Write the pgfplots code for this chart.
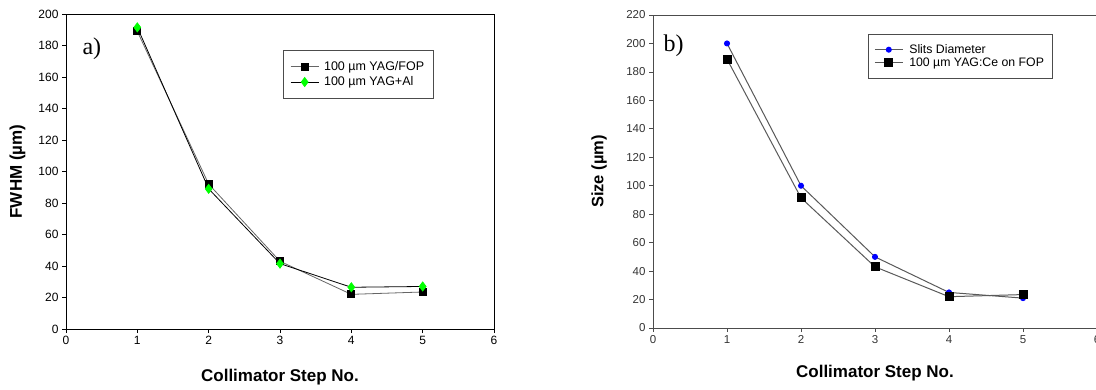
\documentclass[border=0pt]{standalone}
\usepackage{fontspec}
\setmainfont{Liberation Sans}
\newfontfamily\serifont{Liberation Serif}
\usepackage{pgfplots}
\pgfplotsset{compat=1.18}
\pgfplotsset{
  shortleg/.style={legend image code/.code={\draw[mark repeat=2,mark phase=2,##1] plot coordinates {(0pt,0pt) (14pt,0pt) (28pt,0pt)};}},
}
\begin{document}
\begin{tikzpicture}[x=1pt,y=1pt]
\useasboundingbox (0,0) rectangle (1096,389);
\clip (0,0) rectangle (1096,389);
% ---------- panel a ----------
\begin{axis}[
  at={(66pt,60pt)}, anchor=south west, scale only axis,
  width=428pt, height=315pt,
  xmin=0, xmax=6, ymin=0, ymax=200,
  xtick={0,1,2,3,4,5,6}, ytick={0,20,...,200},
  tick align=outside, major tick length=4pt,
  xtick pos=bottom, ytick pos=left,
  axis line style={black, line width=0.8pt},
  tick style={black, line width=0.6pt},
  /pgf/number format/assume math mode=true,
  ticklabel style={font=\fontsize{12}{14}\selectfont},
  every axis x label/.style={at={(rel axis cs:0.5,0)}, anchor=center, yshift=-48pt},
  every axis y label/.style={at={(rel axis cs:0,0.5)}, xshift=-48.5pt, rotate=90, anchor=center},
  xlabel={\bfseries\fontsize{17}{19}\selectfont Collimator Step No.},
  ylabel={\bfseries\fontsize{17}{19}\selectfont FWHM (µm)},
  shortleg,
  legend style={at={(rel axis cs:0.507,0.886)}, anchor=north west, draw=black!70, line width=0.6pt,
    font=\fontsize{12.5}{14}\selectfont, inner xsep=7pt, inner ysep=9pt, row sep=1pt, column sep=3pt},
  legend cell align=left,
]
\addplot[black!60, line width=0.8pt, mark=square*, mark size=3.5pt, mark options={fill=black, draw=black}]
  coordinates {(1,189) (2,92) (3,43) (4,22) (5,23.5)};
\addlegendentry{100 µm YAG/FOP\hspace{6pt}}
\addplot[black, line width=0.8pt, mark=diamond*, mark size=4.5pt, mark options={fill=green, draw=green}]
  coordinates {(1,191.5) (2,89) (3,41.5) (4,26.5) (5,27)};
\addlegendentry{100 µm YAG+Al}
\end{axis}
\node[anchor=west, font=\serifont\fontsize{24}{26}\selectfont] at (79,340) {a)};
% ---------- panel b ----------
\begin{axis}[
  at={(653pt,61pt)}, anchor=south west, scale only axis,
  width=444pt, height=313pt,
  xmin=0, xmax=6, ymin=0, ymax=220,
  xtick={0,1,2,3,4,5,6}, ytick={0,20,...,220},
  tick align=outside, major tick length=4pt,
  xtick pos=bottom, ytick pos=left,
  axis line style={black!70, line width=1pt},
  tick style={black!70, line width=0.8pt},
  /pgf/number format/assume math mode=true,
  ticklabel style={font=\fontsize{11.5}{13}\selectfont, text=black!80},
  every axis x label/.style={at={(rel axis cs:0.5,0)}, anchor=center, yshift=-45pt},
  every axis y label/.style={at={(rel axis cs:0,0.5)}, xshift=-54pt, rotate=90, anchor=center},
  xlabel={\bfseries\fontsize{17}{19}\selectfont Collimator Step No.},
  ylabel={\bfseries\fontsize{16.5}{18}\selectfont Size (µm)},
  shortleg,
  legend style={at={(rel axis cs:0.484,0.939)}, anchor=north west, draw=black!70, line width=0.8pt,
    font=\fontsize{12.3}{14}\selectfont, inner xsep=6pt, inner ysep=8pt, row sep=-1pt, column sep=4pt},
  legend cell align=left,
]
\addplot[black!65, line width=1pt, mark=*, mark size=2.5pt, mark options={fill=blue, draw=blue}]
  coordinates {(1,200) (2,100) (3,50) (4,25) (5,21)};
\addlegendentry{Slits Diameter}
\addplot[black!65, line width=1pt, mark=square*, mark size=4pt, mark options={fill=black, draw=black}]
  coordinates {(1,189) (2,91.5) (3,43) (4,22) (5,23.5)};
\addlegendentry{100 µm YAG:Ce on FOP\hspace{6pt}}
\end{axis}
\node[anchor=west, font=\serifont\fontsize{24}{26}\selectfont] at (660,343) {b)};
\end{tikzpicture}
\end{document}
